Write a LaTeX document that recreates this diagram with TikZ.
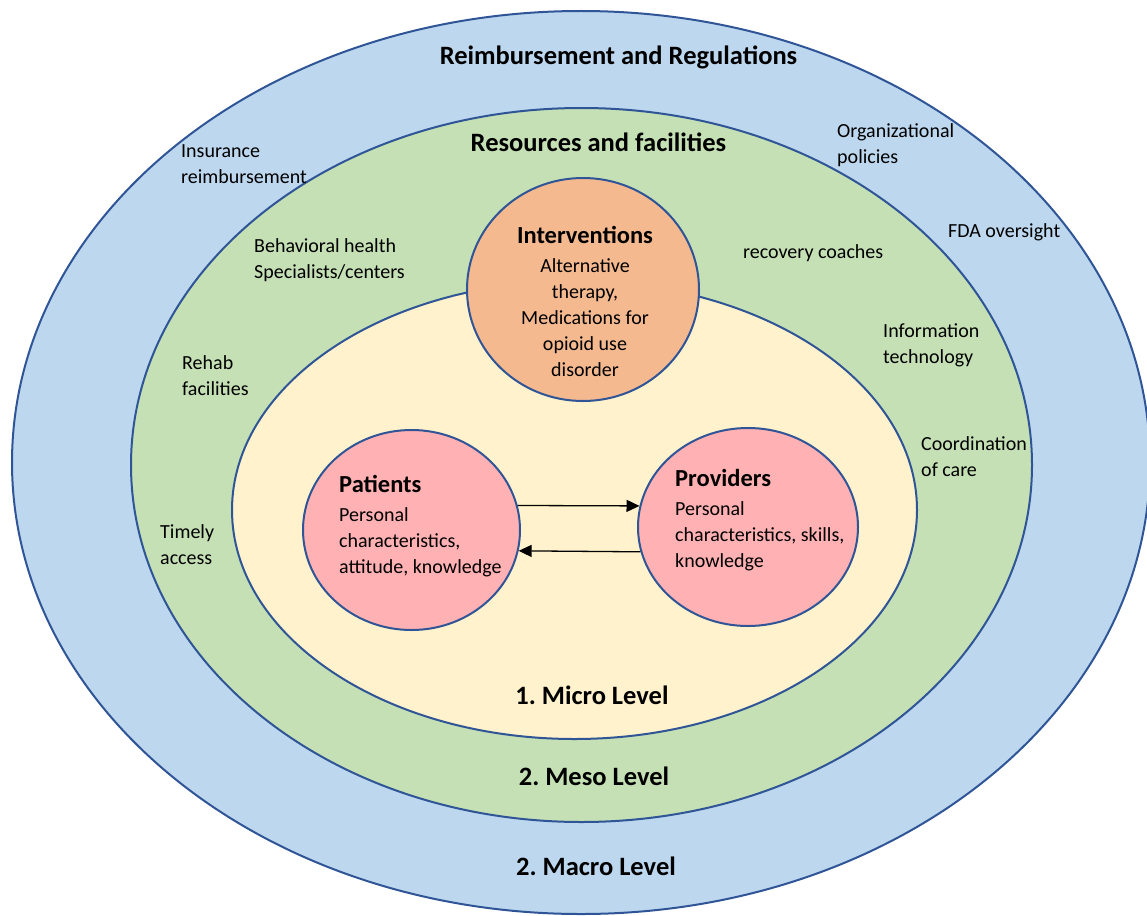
\documentclass[tikz,border=0pt]{standalone}
\usepackage{fontspec}
\setmainfont{Carlito}
\usetikzlibrary{shapes.geometric,arrows.meta}
\frenchspacing

\definecolor{macroblue}{HTML}{BDD7EE}
\definecolor{mesogreen}{HTML}{C5E0B4}
\definecolor{microyellow}{HTML}{FFF2CC}
\definecolor{interorange}{HTML}{F4B98F}
\definecolor{actorpink}{HTML}{FFB1B3}
\definecolor{rimblue}{HTML}{2F5597}

\newcommand{\headfont}{\fontsize{24.5}{30}\selectfont\bfseries}
\newcommand{\levelfont}{\fontsize{26.5}{32}\selectfont\bfseries}

\tikzset{
    ring/.style={ellipse, draw=rimblue, line width=2pt, inner sep=0pt},
    lbl/.style={anchor=base west, align=left, inner sep=0pt,
        font=\fontsize{20}{26}\selectfont},
    lvl/.style={anchor=base, inner sep=0pt, font=\levelfont},
    link/.style={line width=1.3pt, -{Triangle[length=13pt, width=12pt]}}
}

\begin{document}
\begin{tikzpicture}[x=1pt, y=-1pt]
        \useasboundingbox (0,0) rectangle (1147,915);

        \node[ring, fill=macroblue, minimum width=1138pt, minimum height=903pt] (macro) at (581,462.5) {};
        \node[ring, fill=mesogreen, minimum width=901pt, minimum height=714pt] (meso) at (581.5,465) {};
        \node[ring, fill=microyellow, minimum width=685pt, minimum height=458pt] (micro) at (574.5,510) {};

        \node[ring, fill=interorange, minimum width=232pt, minimum height=223pt] (inter) at (583,289.5) {};
        \node[ring, fill=actorpink, minimum width=217pt, minimum height=200pt] (pat) at (411.5,530) {};
        \node[ring, fill=actorpink, minimum width=220pt, minimum height=198pt] (prov) at (748,527) {};

        \draw[link] (pat.13) -- (prov.169);
        \draw[link] (prov.193) -- (pat.349);

        \node[lvl] (macrohead) at (618.5,65) {Reimbursement and Regulations};
        \node[lvl] (mesohead) at (598.5,151) {Resources and facilities};
        \node[lvl] (microlvl) at (592,704) {1. Micro Level};
        \node[lvl] (mesolvl) at (594,785) {2. Meso Level};
        \node[lvl] (macrolvl) at (596,875) {2. Macro Level};

        \node[lbl] (insur) at (181,183) {Insurance\\reimbursement};
        \node[lbl] (orgpol) at (837,163) {Organizational\\policies};
        \node[lbl] (fda) at (948,237) {FDA oversight};
        \node[lbl] (behav) at (254,278) {Behavioral health\\Specialists/centers};
        \node[lbl] (coach) at (743,258) {recovery coaches};
        \node[lbl] (infotech) at (883,363) {Information\\technology};
        \node[lbl] (rehab) at (182,395) {Rehab\\facilities};
        \node[lbl] (coord) at (921,476) {Coordination\\of care};
        \node[lbl] (timely) at (160,564) {Timely\\access};

        \node[lbl, anchor=base, align=center] (intertxt) at (585,376)
            {{\headfont Interventions}\\[3pt]Alternative\\therapy,\\Medications for\\opioid use\\disorder};
        \node[lbl] (pattxt) at (339,573)
            {{\headfont Patients}\\[3pt]Personal\\characteristics,\\attitude, knowledge};
        \node[lbl] (provtxt) at (675,567)
            {{\headfont Providers}\\[3pt]Personal\\characteristics, skills,\\knowledge};
\end{tikzpicture}
\end{document}
